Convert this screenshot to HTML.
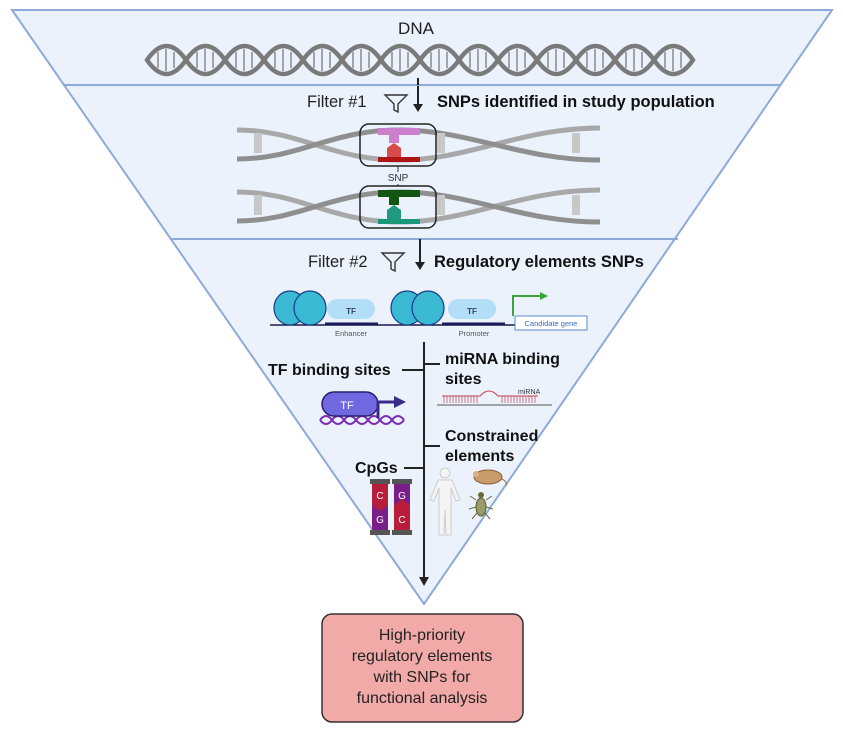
<!DOCTYPE html>
<html><head><meta charset="utf-8"><style>
body{margin:0;background:#fff;}
svg{display:block;font-family:"Liberation Sans",sans-serif;}
</style></head><body>
<svg width="843" height="735" viewBox="0 0 843 735">
<polygon points="12,10 832,10 424,604" fill="#ebf2fc" stroke="#8eaad8" stroke-width="2"/>
<line x1="64" y1="85" x2="780" y2="85" stroke="#8eaad8" stroke-width="2"/>
<line x1="170" y1="239" x2="678" y2="239" stroke="#8eaad8" stroke-width="2"/>
<text x="416" y="34" font-size="17" text-anchor="middle" fill="#222">DNA</text>
<!-- DNA helix -->
<g stroke="#8a8a8a" stroke-width="1.5">
<path d="M158 52v16M166 49v22M174 52v16M197 52v16M205 49v22M213 52v16M236 52v16M244 49v22M252 52v16M275 52v16M283 49v22M291 52v16M314 52v16M322 49v22M330 52v16M353 52v16M361 49v22M369 52v16M392 52v16M400 49v22M408 52v16M431 52v16M439 49v22M447 52v16M470 52v16M478 49v22M486 52v16M509 52v16M517 49v22M525 52v16M548 52v16M556 49v22M564 52v16M587 52v16M595 49v22M603 52v16M626 52v16M634 49v22M642 52v16M665 52v16M673 49v22M681 52v16"/>
</g>
<g fill="none" stroke="#7a7a7a" stroke-width="4.5" stroke-linecap="round">
<path d="M147 60 q19.5 -28 39 0 t39 0 t39 0 t39 0 t39 0 t39 0 t39 0 t39 0 t39 0 t39 0 t39 0 t39 0 t39 0 t39 0"/>
<path d="M147 60 q19.5 28 39 0 t39 0 t39 0 t39 0 t39 0 t39 0 t39 0 t39 0 t39 0 t39 0 t39 0 t39 0 t39 0 t39 0"/>
</g>
<line x1="418" y1="78" x2="418" y2="85" stroke="#222" stroke-width="2"/>
<!-- filter 1 -->
<text x="307" y="107" font-size="16.5" fill="#222">Filter #1</text>
<path d="M385 95 L407 95 L398 104 L398 112 L394 110 L394 104 Z" fill="none" stroke="#333" stroke-width="1.4"/>
<line x1="418" y1="86" x2="418" y2="108" stroke="#222" stroke-width="2"/>
<path d="M413 104 L418 112 L423 104 Z" fill="#222"/>
<text x="437" y="107" font-size="16.5" font-weight="bold" fill="#111">SNPs identified in study population</text>
<!-- SNP rows -->
<g fill="none" stroke-linecap="butt">
<path d="M237 130 C300 130 330 160 400 160 S520 128 600 128" stroke="#a8a8a8" stroke-width="5"/>
<path d="M237 159 C300 159 330 130 400 130 S520 160 600 160" stroke="#8f8f8f" stroke-width="5"/>
<path d="M237 192 C300 192 330 222 400 222 S520 190 600 190" stroke="#a8a8a8" stroke-width="5"/>
<path d="M237 221 C300 221 330 192 400 192 S520 222 600 222" stroke="#8f8f8f" stroke-width="5"/>
</g>
<g fill="#c8c8c8"><rect x="254" y="133" width="8" height="20"/><rect x="437" y="133" width="8" height="20"/><rect x="572" y="133" width="8" height="20"/>
<rect x="254" y="195" width="8" height="20"/><rect x="437" y="195" width="8" height="20"/><rect x="572" y="195" width="8" height="20"/></g>
<rect x="378" y="128" width="42" height="7" fill="#cc7fcc"/><rect x="389" y="133" width="10" height="10" fill="#cc7fcc"/>
<rect x="378" y="157" width="42" height="5" fill="#b01515"/><path d="M387 157 L387 148 L394 143 L401 148 L401 157Z" fill="#d94a4a"/>
<rect x="360" y="124" width="76" height="42" rx="9" fill="none" stroke="#222" stroke-width="1.5"/>
<text x="398" y="181" font-size="10" text-anchor="middle" fill="#333">SNP</text>
<line x1="398" y1="166" x2="398" y2="172" stroke="#333"/><line x1="398" y1="184" x2="398" y2="186" stroke="#333"/>
<rect x="378" y="190" width="42" height="7" fill="#135513"/><rect x="389" y="195" width="10" height="10" fill="#135513"/>
<rect x="378" y="219" width="42" height="5" fill="#1a9978"/><path d="M387 219 L387 210 L394 205 L401 210 L401 219Z" fill="#1f9a80"/>
<rect x="360" y="186" width="76" height="42" rx="9" fill="none" stroke="#222" stroke-width="1.5"/>
<!-- filter 2 -->
<line x1="420" y1="239" x2="420" y2="266" stroke="#222" stroke-width="2"/>
<path d="M415 262 L420 270 L425 262 Z" fill="#222"/>
<text x="308" y="267" font-size="16.5" fill="#222">Filter #2</text>
<path d="M382 253 L404 253 L395 262 L395 271 L391 269 L391 262 Z" fill="none" stroke="#333" stroke-width="1.4"/>
<text x="434" y="267" font-size="16.5" font-weight="bold" fill="#111">Regulatory elements SNPs</text>
<!-- regulatory row -->
<line x1="270" y1="325" x2="515" y2="325" stroke="#1a1a4a" stroke-width="1.5"/>
<line x1="325" y1="324" x2="378" y2="324" stroke="#1a1a5a" stroke-width="3"/>
<line x1="442" y1="324" x2="505" y2="324" stroke="#1a1a5a" stroke-width="3"/>
<g fill="#3ab9d2" stroke="#1a3a8a" stroke-width="1.2">
<ellipse cx="290" cy="308" rx="16" ry="17"/><ellipse cx="310" cy="308" rx="16" ry="17"/>
<ellipse cx="407" cy="308" rx="16" ry="17"/><ellipse cx="428" cy="308" rx="16" ry="17"/>
</g>
<rect x="327" y="299" width="48" height="20" rx="10" fill="#b3def7"/>
<rect x="448" y="299" width="48" height="20" rx="10" fill="#b3def7"/>
<text x="351" y="314" font-size="8" font-weight="bold" text-anchor="middle" fill="#345">TF</text>
<text x="472" y="314" font-size="8" font-weight="bold" text-anchor="middle" fill="#345">TF</text>
<text x="351" y="336" font-size="7.5" text-anchor="middle" fill="#555">Enhancer</text>
<text x="474" y="336" font-size="7.5" text-anchor="middle" fill="#555">Promoter</text>
<path d="M513 316 V296 H540" fill="none" stroke="#3aa63a" stroke-width="2"/><path d="M540 292 L548 296 L540 300Z" fill="#3aa63a"/>
<rect x="515" y="316" width="72" height="14" fill="#fff" stroke="#5a8ad0"/>
<text x="551" y="326" font-size="7.5" text-anchor="middle" fill="#3a6ac0">Candidate gene</text>
<!-- vertical arrow -->
<line x1="424" y1="342" x2="424" y2="580" stroke="#222" stroke-width="2"/>
<path d="M419 577 L424 586 L429 577Z" fill="#222"/>
<line x1="402" y1="370" x2="424" y2="370" stroke="#222" stroke-width="2"/>
<line x1="424" y1="364" x2="440" y2="364" stroke="#222" stroke-width="2"/>
<line x1="424" y1="446" x2="440" y2="446" stroke="#222" stroke-width="2"/>
<line x1="404" y1="468" x2="424" y2="468" stroke="#222" stroke-width="2"/>
<text x="268" y="375" font-size="16" font-weight="bold" fill="#111">TF binding sites</text>
<text x="445" y="364" font-size="16" font-weight="bold" fill="#111">miRNA binding</text>
<text x="445" y="384" font-size="16" font-weight="bold" fill="#111">sites</text>
<text x="445" y="441" font-size="16" font-weight="bold" fill="#111">Constrained</text>
<text x="445" y="461" font-size="16" font-weight="bold" fill="#111">elements</text>
<text x="355" y="473" font-size="16" font-weight="bold" fill="#111">CpGs</text>
<!-- TF icon -->
<path d="M320 420 q6 -8 12 0 t12 0 t12 0 t12 0 t12 0 t12 0 t12 0" fill="none" stroke="#7b2fb0" stroke-width="2"/>
<path d="M320 420 q6 8 12 0 t12 0 t12 0 t12 0 t12 0 t12 0 t12 0" fill="none" stroke="#7b2fb0" stroke-width="2"/>
<rect x="322" y="392" width="56" height="24" rx="12" fill="#7068e0" stroke="#2a2070" stroke-width="1.5"/>
<text x="347" y="409" font-size="11" text-anchor="middle" fill="#fff">TF</text>
<path d="M378 418 V402 H395" fill="none" stroke="#3a2a8a" stroke-width="3"/><path d="M394 396 L406 402 L394 408Z" fill="#3a2a8a"/>
<!-- miRNA -->
<line x1="437" y1="405" x2="552" y2="405" stroke="#555" stroke-width="1"/>
<path d="M442 396 H480 Q489 386 498 396 H538" fill="none" stroke="#c04050" stroke-width="1"/>
<path d="M444 396v7M447 396v7M450 396v7M453 396v7M456 396v7M459 396v7M462 396v7M465 396v7M468 396v7M471 396v7M474 396v7M477 396v7M502 396v7M505 396v7M508 396v7M511 396v7M514 396v7M517 396v7M520 396v7M523 396v7M526 396v7M529 396v7M532 396v7M535 396v7" stroke="#c04050" stroke-width="0.7"/>
<text x="518" y="394" font-size="7" fill="#333">miRNA</text>
<!-- CpG -->
<rect x="372" y="482" width="16" height="50" fill="#7a1f8a"/><path d="M372 482 H388 V505 L380 511 L372 505Z" fill="#b81e3a"/>
<rect x="394" y="482" width="16" height="50" fill="#b81e3a"/><path d="M394 482 H410 V505 L402 499 L394 505Z" fill="#7a1f8a"/>
<rect x="370" y="479" width="20" height="5" fill="#555"/><rect x="392" y="479" width="20" height="5" fill="#555"/>
<rect x="370" y="530" width="20" height="5" fill="#555"/><rect x="392" y="530" width="20" height="5" fill="#555"/>
<text x="380" y="499" font-size="10" text-anchor="middle" fill="#fff">C</text><text x="402" y="499" font-size="10" text-anchor="middle" fill="#fff">G</text>
<text x="380" y="523" font-size="10" text-anchor="middle" fill="#fff">G</text><text x="402" y="523" font-size="10" text-anchor="middle" fill="#fff">C</text>
<!-- human -->
<g fill="#f4f4f4" stroke="#ccc" stroke-width="1">
<circle cx="445" cy="473" r="5"/>
<path d="M438 480 H452 L460 500 L456 501 L451 488 L451 535 L446 535 L445 510 L444 535 L439 535 L439 488 L434 501 L430 500Z"/>
</g>
<!-- mouse -->
<ellipse cx="488" cy="477" rx="14" ry="7" fill="#c99a6a" stroke="#8a5a3a"/>
<circle cx="476" cy="474" r="3" fill="#d8b08a"/>
<path d="M502 479 Q508 482 506 486" fill="none" stroke="#a07050"/>
<!-- fly -->
<ellipse cx="481" cy="507" rx="5" ry="9" fill="#9a9a6a" stroke="#5a5a2a"/>
<circle cx="481" cy="495" r="3" fill="#6a6a3a"/>
<path d="M476 500 L470 496 M486 500 L492 496 M476 507 L469 509 M486 507 L493 509 M477 513 L472 519 M485 513 L490 519" stroke="#6a6a3a" stroke-width="1"/>
<!-- output box -->
<rect x="322" y="614" width="201" height="108" rx="10" fill="#f1aaa8" stroke="#333" stroke-width="1.5"/>
<g font-size="16" text-anchor="middle" fill="#222">
<text x="422" y="640">High-priority</text>
<text x="422" y="661">regulatory elements</text>
<text x="422" y="682">with SNPs for</text>
<text x="422" y="703">functional analysis</text>
</g>
</svg>
</body></html>
